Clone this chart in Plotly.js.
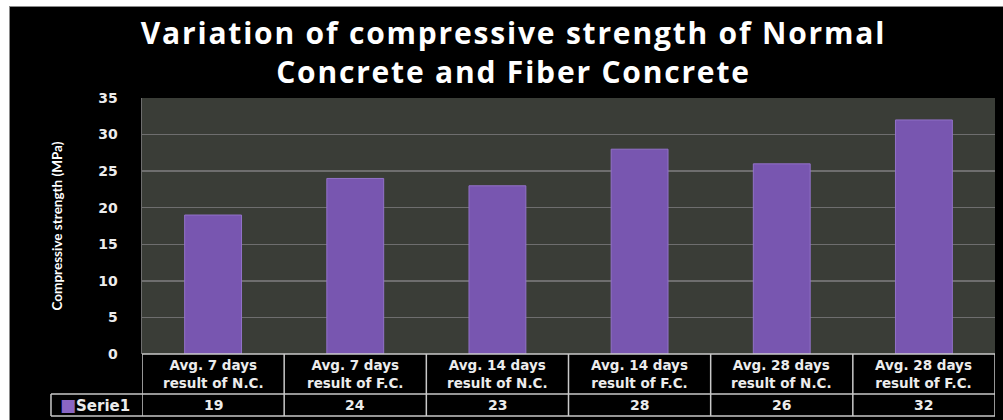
<!DOCTYPE html>
<html>
<head>
<meta charset="utf-8">
<script src="https://cdn.plot.ly/plotly-3.0.1.min.js"></script>
<style>
  html, body { margin: 0; padding: 0; background: #ffffff; width: 1003px; height: 420px; overflow: hidden; }
  #frame { position: absolute; left: 9px; top: 6px; width: 994px; height: 414px; background: #000; border-left: 1px solid #8a8a8a; border-top: 1px solid #8a8a8a; box-sizing: border-box; }
  #chart { position: absolute; left: 1px; top: 1px; width: 993px; height: 413px; }
</style>
</head>
<body>
<div id="frame"><div id="chart"></div></div>
<script>
const categoriesLine1 = ['Avg. 7 days', 'Avg. 7 days', 'Avg. 14 days', 'Avg. 14 days', 'Avg. 28 days', 'Avg. 28 days'];
const categoriesLine2 = ['result of N.C.', 'result of F.C.', 'result of N.C.', 'result of F.C.', 'result of N.C.', 'result of F.C.'];
const serieValues = [19, 24, 23, 28, 26, 32];
const seriesName = 'Serie1';
const yTicks = [0, 5, 10, 15, 20, 25, 30, 35];

const categories = categoriesLine1.map((a, i) => a + ' ' + categoriesLine2[i]);
const idx = categories.map((_, i) => i);

const lineColor = '#c9c9c9';
const textColor = '#ececec';
const hdrFont = { family: 'DejaVu Sans', size: 13.5, color: textColor, weight: 'bold' };
const valFont = { family: 'DejaVu Sans', size: 14, color: textColor, weight: 'bold' };

// table geometry in paper coords
const rowSplit = -0.156;
const tblBottom = -0.242;
const legendLeft = -0.1067;

const shapes = [];
function hline(y, x0, x1) {
  shapes.push({ type: 'line', xref: 'paper', yref: 'paper', x0: x0, x1: x1, y0: y, y1: y, line: { color: lineColor, width: 1.5 } });
}
hline(0, 0, 1);
hline(rowSplit, legendLeft, 1);
hline(tblBottom, legendLeft, 1);
shapes.push({ type: 'line', xref: 'paper', yref: 'paper', x0: legendLeft, x1: legendLeft, y0: rowSplit, y1: tblBottom, line: { color: lineColor, width: 1.5 } });
for (let i = 0; i <= categories.length; i++) {
  shapes.push({ type: 'line', xref: 'x', yref: 'paper', x0: i - 0.5, x1: i - 0.5, y0: 0, y1: tblBottom, line: { color: lineColor, width: 1.5 } });
}

const annotations = [];
categories.forEach((c, i) => {
  annotations.push({ xref: 'x', yref: 'paper', x: i, y: -0.078, text: categoriesLine1[i] + '<br>' + categoriesLine2[i], showarrow: false, font: hdrFont, align: 'center', yanchor: 'middle' });
  annotations.push({ xref: 'x', yref: 'paper', x: i, y: -0.199, text: String(serieValues[i]), showarrow: false, font: valFont, yanchor: 'middle' });
});
annotations.push({ xref: 'paper', yref: 'paper', x: legendLeft + 0.008, y: -0.199, text: '<span style="color:#8a66c4;font-size:17px">■</span>' + seriesName, showarrow: false, font: { family: 'DejaVu Sans', size: 15, color: textColor, weight: 'bold' }, xanchor: 'left', yanchor: 'middle' });

const trace = {
  type: 'bar',
  x: idx,
  y: serieValues,
  name: seriesName,
  width: 0.4,
  marker: { color: '#7856b0', line: { color: '#9272c8', width: 1 } },
  hoverinfo: 'x+y'
};

const layout = {
  width: 993,
  height: 413,
  margin: { l: 131, r: 9, t: 90, b: 67 },
  paper_bgcolor: '#000000',
  plot_bgcolor: '#3a3d37',
  showlegend: false,
  title: {
    text: '<span style="letter-spacing:1.8px">Variation of compressive strength of Normal</span><br><span style="letter-spacing:1.8px">Concrete and Fiber Concrete</span>',
    font: { family: 'Open Sans', size: 30, color: '#ffffff', weight: 'bold' },
    x: 0.506, xanchor: 'center', xref: 'container',
    y: 0.912, yanchor: 'middle', yref: 'container'
  },
  xaxis: {
    range: [-0.5, 5.5],
    showticklabels: false,
    showgrid: false,
    zeroline: false,
    fixedrange: true
  },
  yaxis: {
    range: [0, 35],
    tickvals: yTicks,
    ticktext: yTicks.map(String),
    showgrid: true,
    gridcolor: '#6e6e6e',
    gridwidth: 1.5,
    zeroline: false,
    showline: true,
    linecolor: '#6e6e6e',
    linewidth: 1.5,
    ticks: 'outside',
    ticklen: 20,
    tickcolor: 'rgba(0,0,0,0)',
    tickfont: { family: 'DejaVu Sans', size: 14, color: textColor, weight: 'bold' },
    title: {
      text: 'Compressive strength (MPa)',
      font: { family: 'Lato', size: 13.5, color: '#ffffff', weight: 'bold' },
      standoff: 32
    },
    fixedrange: true
  },
  shapes: shapes,
  annotations: annotations
};

Plotly.newPlot('chart', [trace], layout, { displayModeBar: false, staticPlot: true });
</script>
</body>
</html>
